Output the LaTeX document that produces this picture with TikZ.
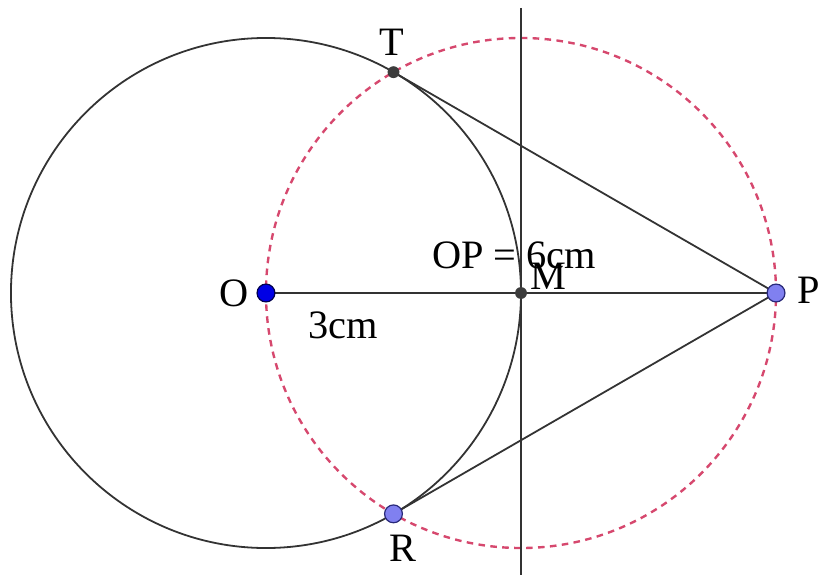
\documentclass[tikz,border=0pt]{standalone}
\usepackage{fontspec}
\setmainfont{Liberation Serif}
\definecolor{pinkred}{RGB}{214,72,110}
\definecolor{ptblue}{RGB}{128,128,240}
\definecolor{ptedge}{RGB}{40,40,120}
\definecolor{darkpt}{RGB}{60,60,60}
\usepackage{tikz}

\begin{document}
\begin{tikzpicture}[
  every node/.style={font=\fontsize{13.5}{16}\selectfont},
  line/.style={line width=0.6pt, black!80},
  help/.style={line width=0.8pt, pinkred, dash pattern=on 2.2pt off 1.8pt},
  bigpt/.style={circle, draw=ptedge, fill=ptblue, inner sep=0pt, minimum size=0.21cm, line width=0.4pt},
  opt/.style={circle, draw=black!70!blue, fill=blue!90!black, inner sep=0pt, minimum size=0.21cm, line width=0.4pt},
  smallpt/.style={circle, fill=darkpt, inner sep=0pt, minimum size=0.14cm}
]
  \useasboundingbox (-3.129,-3.318) rectangle (6.647,3.447);
  % points
  \coordinate (o) at (0,0);
  \coordinate (m) at (3,0);
  \coordinate (p) at (6,0);
  \coordinate (t) at (1.5,2.598);
  \coordinate (r) at (1.5,-2.598);
  \coordinate (vtop) at (3,3.353);
  \coordinate (vbot) at (3,-3.318);
  % circles
  \draw[line] (o) circle (3);
  \draw[help] (m) circle (3);
  % lines
  \draw[line] (vtop) -- (vbot);
  \draw[line] (o) -- (m) -- (p);
  \draw[line] (t) -- (p);
  \draw[line] (r) -- (p);
  % dots
  \node[opt] (O) at (o) {};
  \node[bigpt] (P) at (p) {};
  \node[bigpt] (R) at (r) {};
  \node[smallpt] (T) at (t) {};
  \node[smallpt] (M) at (m) {};
  % labels
  \node (lo) at (-0.376,0) {O};
  \node (lt) at (1.482,2.953) {T};
  \node (lr) at (1.612,-3.006) {R};
  \node (lp) at (6.388,0.035) {P};
  \node (lm) at (3.318,0.2) {M};
  \node (op) at (2.918,0.447) {OP = 6cm};
  \node (rad) at (0.906,-0.376) {3cm};
\end{tikzpicture}
\end{document}
